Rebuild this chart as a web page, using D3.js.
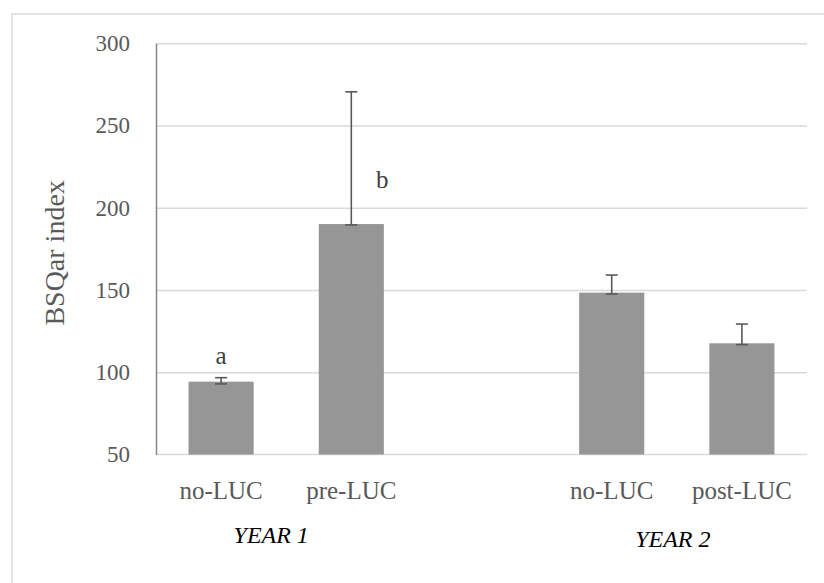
<!DOCTYPE html>
<html>
<head>
<meta charset="utf-8">
<script src="https://cdn.jsdelivr.net/npm/d3@7"></script>
<style>
  html, body { margin: 0; padding: 0; background: #fff; }
  svg { display: block; }
  text { font-family: "Liberation Serif", "Times New Roman", serif; }
</style>
</head>
<body>
<script>
// ---- data ----
const categories = ["no-LUC", "pre-LUC", "", "no-LUC", "post-LUC"];
const values     = [94.3, 190.1, null, 148.4, 117.6];
const errUp      = [2.4, 80.4, null, 10.7, 11.7];
const errDown    = [1.4, 0.5, null, 0.8, 0.8];
const sigLetters = ["a", "b", "", "", ""];
const groupLabels = ["YEAR 1", "YEAR 2"];
const groupMembers = [[0, 1], [3, 4]];
const yTicks = [50, 100, 150, 200, 250, 300];
const yTitle = "BSQar index";

// ---- layout ----
const W = 824, H = 583;
const plot = { left: 156, right: 807, top: 43.3, bottom: 454.5 };

const svg = d3.select("body").append("svg").attr("width", W).attr("height", H);

// chart frame (cropped at right and bottom)
svg.append("rect")
  .attr("x", 12).attr("y", 14).attr("width", 840).attr("height", 620)
  .attr("fill", "none").attr("stroke", "#d9d9d9").attr("stroke-width", 1.5);

const x = d3.scaleBand()
  .domain(d3.range(categories.length))
  .range([plot.left, plot.right])
  .paddingInner(0.5).paddingOuter(0.25);

const y = d3.scaleLinear().domain([50, 300]).range([plot.bottom, plot.top]);

// gridlines
const grid = svg.append("g")
  .attr("transform", `translate(${plot.left},0)`)
  .call(d3.axisLeft(y).tickValues(yTicks.filter(t => t > 50))
    .tickSize(-(plot.right - plot.left)).tickFormat(""));
grid.select(".domain").remove();
grid.selectAll("line").attr("stroke", "#d9d9d9").attr("stroke-width", 1.5);

// baseline
svg.append("line")
  .attr("x1", plot.left).attr("x2", plot.right)
  .attr("y1", y(50)).attr("y2", y(50))
  .attr("stroke", "#d9d9d9").attr("stroke-width", 1.5);

// bars
const idx = d3.range(categories.length).filter(i => values[i] != null);
svg.append("g").selectAll("rect").data(idx).join("rect")
  .attr("x", i => x(i))
  .attr("width", x.bandwidth())
  .attr("y", i => y(values[i]))
  .attr("height", i => y(50) - y(values[i]))
  .attr("fill", "#969696");

// error bars
const eb = svg.append("g").attr("stroke", "#595959").attr("stroke-width", 1.6);
const capW = 6;
idx.forEach(i => {
  const cx = x(i) + x.bandwidth() / 2;
  const yTop = y(values[i] + errUp[i]);
  const yBot = y(values[i] - errDown[i]);
  eb.append("line").attr("x1", cx).attr("x2", cx).attr("y1", yTop).attr("y2", yBot);
  eb.append("line").attr("x1", cx - capW).attr("x2", cx + capW).attr("y1", yTop).attr("y2", yTop);
  eb.append("line").attr("x1", cx - capW).attr("x2", cx + capW).attr("y1", yBot).attr("y2", yBot);
});

// left axis
const yAxis = svg.append("g")
  .attr("transform", `translate(${plot.left},0)`)
  .call(d3.axisLeft(y).tickValues(yTicks).tickSize(0).tickPadding(26));
yAxis.select(".domain").attr("stroke", "#868686").attr("stroke-width", 1.5);
yAxis.selectAll("text")
  .attr("fill", "#595959").style("font-size", "23px")
  .style("font-family", "'Liberation Serif', serif");

// category labels
svg.append("g").selectAll("text").data(d3.range(categories.length)).join("text")
  .attr("x", i => x(i) + x.bandwidth() / 2)
  .attr("y", y(50) + 44)
  .attr("text-anchor", "middle")
  .attr("fill", "#595959").style("font-size", "25px")
  .text(i => categories[i]);

// significance letters (placed relative to the bar / error bar tops)
const sigPlace = [
  i => ({ x: x(i) + x.bandwidth() / 2, y: y(values[i] + errUp[i]) - 14 }),
  i => ({ x: x(i) + x.bandwidth() / 2 + 31, y: y(values[i]) - 36 })
];
svg.append("g").selectAll("text").data(idx.filter(i => sigLetters[i])).join("text")
  .attr("x", (i, k) => sigPlace[k](i).x)
  .attr("y", (i, k) => sigPlace[k](i).y)
  .attr("text-anchor", "middle")
  .attr("fill", "#404040").style("font-size", "25px")
  .text(i => sigLetters[i]);

// group labels
const groupOffsets = [{ dx: -15, y: 543 }, { dx: -4, y: 547 }];
svg.append("g").selectAll("text").data(groupLabels).join("text")
  .attr("x", (g, k) => {
    const m = groupMembers[k];
    return (x(m[0]) + x(m[1])) / 2 + x.bandwidth() / 2 + groupOffsets[k].dx;
  })
  .attr("y", (g, k) => groupOffsets[k].y)
  .attr("text-anchor", "middle")
  .attr("fill", "#000").style("font-size", "24px").style("font-style", "italic")
  .text(g => g);

// y-axis title
svg.append("text")
  .attr("transform", `translate(64,${(plot.top + plot.bottom) / 2 + 4}) rotate(-90)`)
  .attr("text-anchor", "middle")
  .attr("fill", "#595959").style("font-size", "28px")
  .text(yTitle);
</script>
</body>
</html>
